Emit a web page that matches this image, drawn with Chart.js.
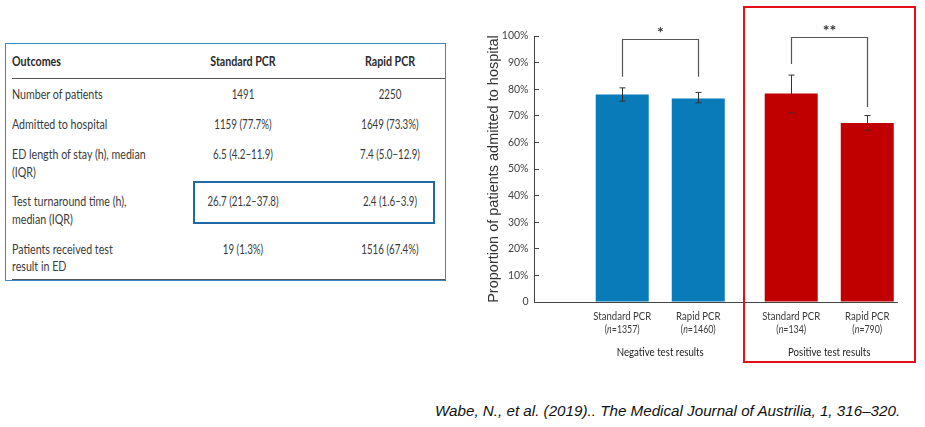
<!DOCTYPE html>
<html><head><meta charset="utf-8">
<script src="https://cdn.jsdelivr.net/npm/chart.js@4.4.1/dist/chart.umd.min.js"></script>
<style>
html,body{margin:0;padding:0;background:#fff;width:925px;height:427px;overflow:hidden;position:relative;font-family:Lato,sans-serif;}
#tblbox{position:absolute;left:5px;top:43px;width:441px;height:238px;border:1px solid #3a86c0;box-sizing:border-box;}
.cell{position:absolute;font-size:13px;line-height:17.5px;color:#3a3a3a;white-space:pre-line;transform-origin:left center;transform:scaleX(0.82);}
.hdr{font-weight:bold;color:#2a2a2a;}
.c{text-align:center;width:170px;transform-origin:center center;transform:scaleX(0.75);}
.c.hdr{transform:scaleX(0.82);}
.rule{position:absolute;left:12px;width:433px;height:1.5px;background:#555;}
#hl{position:absolute;left:193px;top:181px;width:242px;height:43px;border:2px solid #1f6aa5;box-sizing:border-box;}
#wrap{position:absolute;left:480px;top:0;width:445px;height:390px;}
#redbox{position:absolute;left:743px;top:6px;width:173px;height:357px;border:2.5px solid #e3101a;box-sizing:border-box;pointer-events:none;}
#cite{position:absolute;left:435px;top:402px;font-family:"Liberation Sans",Arial,sans-serif;font-style:italic;font-size:15.2px;color:#111;white-space:nowrap;}
</style>
</head>
<body>
<div id="tblbox"></div>
<div id="hl"></div>
<div id="wrap"><canvas id="chart"></canvas></div>
<div id="redbox"></div>
<div id="cite">Wabe, N., et al. (2019).. The Medical Journal of Austrilia, 1, 316–320.</div>
<script>
// ---- Table data ----
const tableHeaders = ['Outcomes', 'Standard PCR', 'Rapid PCR'];
const outcomeLabels = ['Number of patients', 'Admitted to hospital', 'ED length of stay (h), median\n(IQR)', 'Test turnaround time (h),\nmedian (IQR)', 'Patients received test\nresult in ED'];
const standardColumn = ['1491', '1159 (77.7%)', '6.5 (4.2–11.9)', '26.7 (21.2–37.8)', '19 (1.3%)'];
const rapidColumn = ['2250', '1649 (73.3%)', '7.4 (5.0–12.9)', '2.4 (1.6–3.9)', '1516 (67.4%)'];

// ---- Chart data ----
const categories = ['Negative test results', 'Positive test results'];
const seriesNames = ['Standard PCR', 'Rapid PCR'];
const standardN = ['1357', '134'];
const rapidN = ['1460', '790'];
const standardValues = [78.0, 78.4];
const rapidValues = [76.5, 67.3];
const standardLow = [75.5, 71.1];
const standardHigh = [80.5, 85.3];
const rapidLow = [74.9, 64.6];
const rapidHigh = [78.8, 70.1];
const yTickValues = [0, 10, 20, 30, 40, 50, 60, 70, 80, 90, 100];
const bracketTop = [98.9, 99.7];
const bracketLeftEnd = [84.7, 89.5];
const bracketRightEnd = [84.7, 73.3];
const bracketMarks = ['*', '**'];

// ---- Build table ----
(function buildTable() {
  const rowTops = [53.25, 86.25, 116.25, 146.25, 193.25, 240.75];
  const add = (cls, text, left, top) => {
    const d = document.createElement('div');
    d.className = 'cell ' + cls;
    d.textContent = text;
    d.style.left = left + 'px';
    d.style.top = top + 'px';
    document.body.appendChild(d);
  };
  add('hdr', tableHeaders[0], 12, rowTops[0]);
  add('hdr c', tableHeaders[1], 243 - 85, rowTops[0]);
  add('hdr c', tableHeaders[2], 390 - 85, rowTops[0]);
  for (let i = 0; i < outcomeLabels.length; i++) {
    add('', outcomeLabels[i], 12, rowTops[i + 1]);
    add('c', standardColumn[i], 243 - 85, rowTops[i + 1]);
    add('c', rapidColumn[i], 390 - 85, rowTops[i + 1]);
  }
  [77.5, 278.5].forEach(t => {
    const r = document.createElement('div');
    r.className = 'rule';
    r.style.top = t + 'px';
    document.body.appendChild(r);
  });
})();

// ---- Chart ----
const BLUE = '#087bb8', RED = '#c00000';
const groupColors = [BLUE, RED];
const X_START = -0.747, X_END = 1.401;

const xMapPlugin = {
  id: 'xMap',
  afterLayout(chart) {
    const x = chart.scales.x;
    x._startValue = X_START;
    x._valueRange = X_END - X_START;
  }
};

const lows = [standardLow, rapidLow];
const highs = [standardHigh, rapidHigh];
const nLists = [standardN, rapidN];

function condText(ctx, text, x, y, font, sx, align) {
  ctx.save();
  ctx.font = font;
  ctx.translate(x, y);
  ctx.scale(sx, 1);
  ctx.textAlign = align || 'center';
  ctx.fillText(text, 0, 0);
  ctx.restore();
}

const annotPlugin = {
  id: 'annot',
  afterDatasetsDraw(chart) {
    const ctx = chart.ctx;
    const y = chart.scales.y;
    const xs = chart.scales.x;
    ctx.save();
    // error bars
    ctx.strokeStyle = '#333';
    ctx.lineWidth = 1;
    for (let d = 0; d < 2; d++) {
      const meta = chart.getDatasetMeta(d);
      meta.data.forEach((el, i) => {
        const x = Math.round(el.x) + 0.5;
        const yl = y.getPixelForValue(lows[d][i]);
        const yh = y.getPixelForValue(highs[d][i]);
        ctx.beginPath();
        ctx.moveTo(x, yl); ctx.lineTo(x, yh);
        ctx.moveTo(x - 3, yl); ctx.lineTo(x + 3, yl);
        ctx.moveTo(x - 3, yh); ctx.lineTo(x + 3, yh);
        ctx.stroke();
      });
    }
    // brackets
    ctx.strokeStyle = '#555';
    ctx.lineWidth = 1.2;
    ctx.fillStyle = '#333';
    ctx.textBaseline = 'alphabetic';
    for (let i = 0; i < categories.length; i++) {
      const xl = Math.round(chart.getDatasetMeta(0).data[i].x) + 0.5;
      const xr = Math.round(chart.getDatasetMeta(1).data[i].x) + 0.5;
      const yt = Math.round(y.getPixelForValue(bracketTop[i])) + 0.5;
      ctx.beginPath();
      ctx.moveTo(xl, y.getPixelForValue(bracketLeftEnd[i]));
      ctx.lineTo(xl, yt);
      ctx.lineTo(xr, yt);
      ctx.lineTo(xr, y.getPixelForValue(bracketRightEnd[i]));
      ctx.stroke();
      condText(ctx, bracketMarks[i], (xl + xr) / 2, yt - 2, 'bold 16px Lato', 1, 'center');
    }
    // x labels
    ctx.textBaseline = 'middle';
    const base = xs.top;
    ctx.fillStyle = '#3a3a3a';
    for (let d = 0; d < 2; d++) {
      const meta = chart.getDatasetMeta(d);
      meta.data.forEach((el, i) => {
        condText(ctx, seriesNames[d], el.x, base + 14.5, '11px Lato', 0.87, 'center');
        const p1 = '(', p2 = 'n', p3 = '=' + nLists[d][i] + ')';
        const sx = 0.8;
        ctx.font = '11px Lato';
        const w1 = ctx.measureText(p1).width * sx, w3 = ctx.measureText(p3).width * sx;
        ctx.font = 'italic 11px Lato';
        const w2 = ctx.measureText(p2).width * sx;
        const s = el.x - (w1 + w2 + w3) / 2;
        condText(ctx, p1, s, base + 27, '11px Lato', sx, 'left');
        condText(ctx, p2, s + w1, base + 27, 'italic 11px Lato', sx, 'left');
        condText(ctx, p3, s + w1 + w2, base + 27, '11px Lato', sx, 'left');
      });
    }
    ctx.fillStyle = '#222';
    for (let i = 0; i < categories.length; i++) {
      const cx = (chart.getDatasetMeta(0).data[i].x + chart.getDatasetMeta(1).data[i].x) / 2;
      condText(ctx, categories[i], cx, base + 50, '11.5px Lato', 0.84, 'center');
    }
    ctx.restore();
  }
};

new Chart(document.getElementById('chart'), {
  type: 'bar',
  data: {
    labels: categories,
    datasets: [
      { label: seriesNames[0], data: standardValues, backgroundColor: groupColors, borderWidth: 0 },
      { label: seriesNames[1], data: rapidValues, backgroundColor: groupColors, borderWidth: 0 }
    ]
  },
  options: {
    responsive: true,
    maintainAspectRatio: false,
    animation: false,
    categoryPercentage: 0.9,
    barPercentage: 0.697,
    layout: { padding: { left: 0, right: 28, top: 36, bottom: 0 } },
    plugins: { legend: { display: false }, tooltip: { enabled: false } },
    scales: {
      x: {
        type: 'category',
        offset: true,
        grid: { display: false },
        border: { display: true, color: '#444', width: 1 },
        ticks: { display: false },
        afterFit(s) { s.height = 88; }
      },
      y: {
        min: 0, max: 100,
        afterBuildTicks(s) { s.ticks = yTickValues.map(v => ({ value: v })); },
        ticks: {
          padding: 10.5,
          color: '#444',
          font: { family: 'Lato', size: 10.5 },
          callback: v => v === 0 ? '0' : v + '%'
        },
        grid: { drawOnChartArea: false, tickLength: -5, color: '#444' },
        border: { display: true, color: '#444', width: 1 },
        title: {
          display: true,
          text: 'Proportion of patients admitted to hospital',
          color: '#333',
          font: { family: 'Liberation Sans', size: 14.5 },
          padding: { top: 5.3, bottom: 0 }
        },
        afterFit(s) { s.width = 54; }
      }
    }
  },
  plugins: [xMapPlugin, annotPlugin]
});
</script>
</body></html>
